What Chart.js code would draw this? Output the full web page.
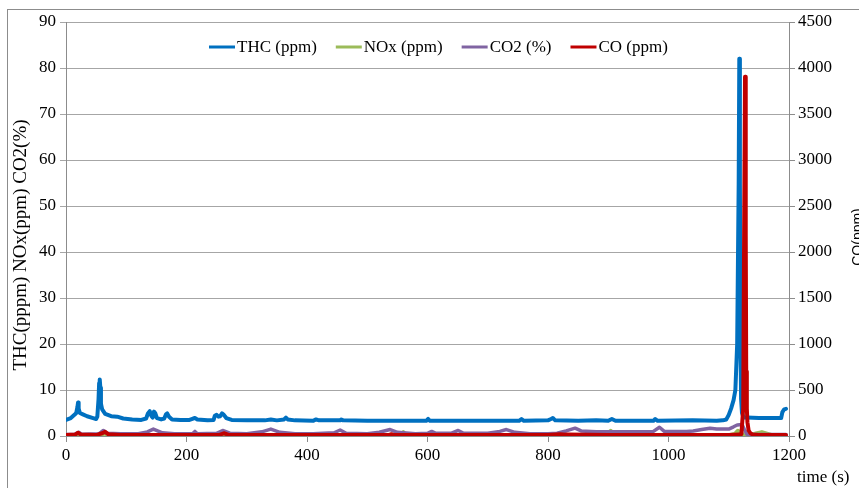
<!DOCTYPE html>
<html>
<head>
<meta charset="utf-8">
<script src="https://cdn.jsdelivr.net/npm/chart.js@4.4.0/dist/chart.umd.min.js"></script>
<style>
  html, body { margin: 0; padding: 0; background: #fff; overflow: hidden; }
  #caixa { width: 859px; height: 488px; position: relative; }
</style>
</head>
<body>
<div id="caixa"><canvas id="graficoEmissoes"></canvas></div>
<script>
// tempo (s) e valores
const thcTempo = [0, 8, 14, 17, 19, 20, 21, 23, 28, 35,
  45, 50, 52, 54, 55, 56, 57, 58, 60, 65,
  75, 85, 95, 110, 125, 133, 136, 139, 142, 144,
  146, 148, 151, 158, 163, 166, 168, 171, 176, 190,
  205, 211, 214, 218, 235, 245, 247, 250, 253, 256,
  259, 262, 266, 275, 300, 330, 340, 350, 362, 365,
  368, 380, 410, 415, 420, 455, 457, 460, 500, 540,
  598, 601, 604, 640, 700, 752, 756, 760, 800, 805,
  808, 812, 850, 880, 900, 906, 912, 975, 978, 982,
  1040, 1080, 1090, 1096, 1100, 1104, 1108, 1111, 1114, 1116.5,
  1117.5, 1118.5, 1119.5, 1120.5, 1122, 1124, 1126, 1130, 1150, 1170,
  1187, 1189, 1192, 1195]
const thcValor = [3.5, 3.9, 4.6, 5.0, 6.3, 7.3, 6.0, 5.0, 4.7, 4.3,
  3.9, 3.7, 4.2, 8.0, 11.5, 12.3, 10.5, 7.0, 5.8, 4.8,
  4.3, 4.2, 3.8, 3.6, 3.5, 3.8, 4.9, 5.4, 4.3, 4.0,
  5.3, 5.0, 3.9, 3.6, 3.8, 4.7, 4.9, 4.2, 3.6, 3.5,
  3.5, 3.8, 3.9, 3.6, 3.4, 3.5, 4.4, 4.6, 4.2, 4.3,
  4.9, 4.6, 3.9, 3.5, 3.4, 3.4, 3.6, 3.4, 3.6, 4.0,
  3.6, 3.4, 3.3, 3.6, 3.4, 3.4, 3.6, 3.4, 3.3, 3.3,
  3.3, 3.7, 3.3, 3.3, 3.3, 3.3, 3.7, 3.3, 3.4, 3.7,
  3.9, 3.4, 3.3, 3.4, 3.3, 3.7, 3.3, 3.3, 3.7, 3.3,
  3.4, 3.3, 3.4, 3.6, 4.6, 6.0, 7.8, 10, 20, 55,
  82, 55, 20, 8, 5, 4.2, 4.0, 4.0, 3.9, 3.9,
  3.9, 5.2, 5.8, 5.9]

const noxTempo = [0, 60, 64, 68, 300, 555, 560, 565, 745, 752,
  758, 895, 904, 912, 1100, 1110, 1115, 1120, 1125, 1135,
  1145, 1155, 1165, 1175, 1195]
const noxValor = [0.1, 0.2, 0.6, 0.1, 0.1, 0.1, 0.9, 0.1, 0.1, 0.6,
  0.1, 0.1, 1.2, 0.1, 0.2, 0.5, 1.2, 0.8, 0.2, 0.2,
  0.6, 0.9, 0.5, 0.1, 0.1]

const co2Tempo = [0, 15, 21, 26, 55, 62, 68, 90, 120, 135,
  145, 160, 180, 210, 214, 218, 250, 260, 272, 300,
  325, 340, 355, 380, 410, 445, 455, 465, 500, 520,
  538, 550, 580, 600, 607, 614, 640, 651, 660, 700,
  720, 731, 745, 770, 800, 815, 830, 845, 855, 880,
  940, 975, 985, 993, 1030, 1041, 1055, 1069, 1080, 1100,
  1108, 1114, 1122, 1126, 1130, 1195]
const co2Valor = [0.3, 0.4, 0.8, 0.4, 0.5, 1.2, 0.6, 0.5, 0.5, 0.9,
  1.5, 0.7, 0.5, 0.5, 1.0, 0.5, 0.6, 1.2, 0.6, 0.5,
  0.9, 1.5, 0.8, 0.5, 0.5, 0.7, 1.3, 0.6, 0.5, 0.8,
  1.4, 0.8, 0.5, 0.6, 1.0, 0.6, 0.6, 1.2, 0.6, 0.6,
  1.0, 1.4, 0.8, 0.5, 0.5, 0.6, 1.1, 1.7, 1.1, 0.9,
  0.9, 1.0, 1.9, 1.0, 1.0, 1.1, 1.4, 1.7, 1.5, 1.5,
  2.0, 2.4, 2.5, 1.4, 0.4, 0.3]

const coTempo = [0, 15, 20, 25, 50, 60, 65, 70, 90, 150,
  200, 255, 262, 270, 350, 450, 535, 540, 545, 600,
  700, 800, 820, 830, 900, 1000, 1100, 1118, 1121, 1124,
  1125.5, 1127, 1128.2, 1129, 1130, 1131, 1133, 1136, 1140, 1150,
  1195]
const coValor = [10, 15, 35, 15, 10, 30, 45, 20, 10, 12,
  10, 12, 30, 12, 10, 10, 10, 20, 10, 10,
  10, 10, 20, 15, 10, 10, 10, 15, 20, 300,
  2200, 3906, 2200, 700, 300, 150, 60, 30, 15, 12,
  12]

const tempoTicks = [0, 200, 400, 600, 800, 1000, 1200]
const rotuloEsquerda = 'THC(pppm) NOx(ppm) CO2(%)'
const rotuloDireita = 'CO(ppm)'
const rotuloTempo = 'time (s)'

function pares(tempos, valores) {
  return tempos.map((t, i) => ({ x: t, y: valores[i] }))
}

const serif = '"Liberation Serif", "Times New Roman", serif'
const semMilhar = v => String(v)

// moldura, titulos dos eixos e legenda
const textosExtras = {
  id: 'textosExtras',
  beforeDraw(chart) {
    const ctx = chart.ctx
    ctx.save()
    ctx.fillStyle = '#fff'
    ctx.fillRect(0, 0, chart.width, chart.height)
    ctx.strokeStyle = '#8c8c8c'
    ctx.lineWidth = 1
    ctx.strokeRect(7.5, 9.5, 1000, 1000)
    ctx.restore()
  },
  afterDraw(chart) {
    const ctx = chart.ctx
    ctx.save()
    ctx.fillStyle = '#000'

    ctx.save()
    ctx.translate(21, 245)
    ctx.rotate(-Math.PI / 2)
    ctx.font = '19px ' + serif
    ctx.textAlign = 'center'
    ctx.textBaseline = 'middle'
    ctx.fillText(rotuloEsquerda, 0, 0)
    ctx.restore()

    ctx.save()
    ctx.translate(862, 237)
    ctx.rotate(-Math.PI / 2)
    ctx.font = '14px "Liberation Sans", Arial, sans-serif'
    ctx.textAlign = 'center'
    ctx.textBaseline = 'alphabetic'
    ctx.fillText(rotuloDireita, 0, 0)
    ctx.restore()

    ctx.font = '17px ' + serif
    ctx.textAlign = 'left'
    ctx.textBaseline = 'middle'
    ctx.fillText(rotuloTempo, 797, 478)

    // legenda
    let x = 209
    const y = 47
    chart.data.datasets.forEach(ds => {
      ctx.strokeStyle = ds.borderColor
      ctx.lineWidth = 3
      ctx.beginPath()
      ctx.moveTo(x, y)
      ctx.lineTo(x + 26, y)
      ctx.stroke()
      x += 28
      ctx.fillText(ds.label, x, y + 1)
      x += ctx.measureText(ds.label).width + 19
    })
    ctx.restore()
  }
}

Chart.defaults.font.family = serif
Chart.defaults.font.size = 17
Chart.defaults.color = '#000'

const grafico = document.getElementById('graficoEmissoes')

const graficoEmissoes = new Chart(grafico, {
  type: 'line',
  data: {
    datasets: [{
      label: 'THC (ppm)',
      data: pares(thcTempo, thcValor),
      borderColor: '#0070c0',
      borderWidth: 4,
      yAxisID: 'y',
      order: 4
    }, {
      label: 'NOx (ppm)',
      data: pares(noxTempo, noxValor),
      borderColor: '#9bbb59',
      borderWidth: 3.5,
      yAxisID: 'y',
      order: 3
    }, {
      label: 'CO2 (%)',
      data: pares(co2Tempo, co2Valor),
      borderColor: '#8064a2',
      borderWidth: 3.5,
      yAxisID: 'y',
      order: 2
    }, {
      label: 'CO (ppm)',
      data: pares(coTempo, coValor),
      borderColor: '#c00000',
      borderWidth: 4,
      yAxisID: 'yCO',
      order: 1
    }]
  },
  options: {
    responsive: true,
    maintainAspectRatio: false,
    animation: false,
    layout: { padding: { top: 22, left: 0, right: 0, bottom: 0 } },
    elements: {
      point: { radius: 0 },
      line: { tension: 0, borderJoinStyle: 'round', borderCapStyle: 'round' }
    },
    plugins: {
      legend: { display: false },
      tooltip: { enabled: false }
    },
    scales: {
      x: {
        type: 'linear',
        min: 0,
        max: 1200,
        afterBuildTicks: s => { s.ticks = tempoTicks.map(v => ({ value: v })) },
        ticks: { padding: 3, maxRotation: 0, callback: semMilhar },
        grid: { drawOnChartArea: false, tickLength: 6, color: '#8c8c8c' },
        border: { color: '#8c8c8c' },
        afterFit: s => { s.height = 52 }
      },
      y: {
        position: 'left',
        min: 0,
        max: 90,
        ticks: { stepSize: 10, padding: 4, callback: semMilhar },
        grid: { color: '#a6a6a6', tickLength: 6 },
        border: { color: '#8c8c8c' },
        afterFit: s => { s.width = 66 }
      },
      yCO: {
        position: 'right',
        min: 0,
        max: 4500,
        ticks: { stepSize: 500, padding: 3, callback: semMilhar },
        grid: { drawOnChartArea: false, tickLength: 6, color: '#8c8c8c' },
        border: { color: '#8c8c8c' },
        afterFit: s => { s.width = 70 }
      }
    }
  },
  plugins: [textosExtras]
})
</script>
</body>
</html>
